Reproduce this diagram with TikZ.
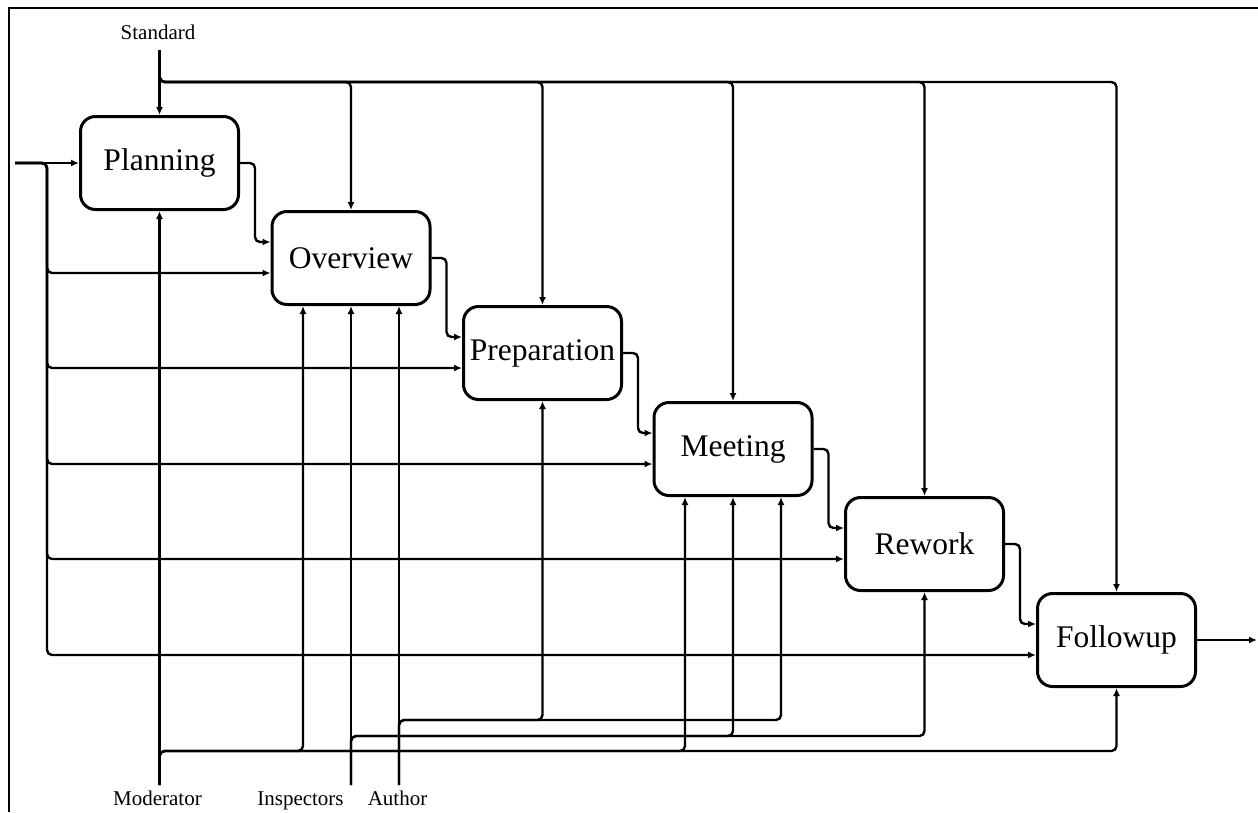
\documentclass[tikz,border=0pt]{standalone}
\usepackage{fontspec}
\setmainfont{Liberation Serif}
\usetikzlibrary{arrows.meta}
\begin{document}
\begin{tikzpicture}[x=1pt,y=-1pt,
  stage/.style={draw, line width=3pt, rounded corners=15pt,
    minimum width=158pt, minimum height=93pt, inner sep=0pt,
    font=\fontsize{31.5}{36}\selectfont},
  flow/.style={line width=2.4pt, rounded corners=5pt,
    -{Latex[length=8pt,width=7pt]}},
  lbl/.style={font=\fontsize{21}{24}\selectfont, anchor=base, inner sep=0pt}]
\useasboundingbox (0,0) rectangle (1258,812);

% frame
\draw[line width=2.6pt] (9,812) -- (9,8) -- (1258,8);

% process stages
\node[stage] (pl) at (159.5,163) {Planning};
\node[stage] (ov) at (351,258) {Overview};
\node[stage] (pr) at (542.5,353) {Preparation};
\node[stage] (mt) at (733,449) {Meeting};
\node[stage] (rw) at (924.5,544) {Rework};
\node[stage] (fu) at (1116.5,640) {Followup};

% role and input labels
\node[lbl] (stdl) at (158,39.5) {Standard};
\node[lbl] (modl) at (157.5,805) {Moderator};
\node[lbl] (inspl) at (300.5,805) {Inspectors};
\node[lbl] (authl) at (397.5,805) {Author};

% helper points
\coordinate (in) at (15,163);
\coordinate (bus) at (47,0);
\coordinate (std) at (pl.north |- 0,50);
\coordinate (stdbus) at (0,82);
\coordinate (mod) at (pl.south |- 0,785);
\coordinate (insp) at (ov.south |- 0,785);
\coordinate (ovM) at ([xshift=-48pt]ov.south);
\coordinate (ovA) at ([xshift=48pt]ov.south);
\coordinate (mtM) at ([xshift=-48pt]mt.south);
\coordinate (mtA) at ([xshift=48pt]mt.south);
\coordinate (auth) at (ovA |- 0,785);
\coordinate (modbus) at (0,751);
\coordinate (inspbus) at (0,736);
\coordinate (authbus) at (0,720);
\coordinate (out) at ([xshift=60pt]fu.east);
\foreach \b in {ov,pr,mt,rw,fu}
  \coordinate (\b-in) at ([yshift=-15pt]\b.west);

% stage to stage
\foreach \a/\b in {pl/ov, ov/pr, pr/mt, mt/rw, rw/fu}
  \draw[flow] (\a.east) -- ++(15,0) |- ([yshift=16pt]\b.west);

% main input distribution
\draw[flow] (in) -- (pl.west);
\foreach \b in {ov,pr,mt,rw,fu}
  \draw[flow] (in) -| (bus |- \b-in) -- (\b-in);

% standard distribution
\draw[flow] (std) -- (pl.north);
\foreach \b in {ov,pr,mt,rw,fu}
  \draw[flow] (std) |- (\b.north |- stdbus) -- (\b.north);

% moderator
\draw[flow] (mod) -- (pl.south);
\draw[flow] (mod) |- (ovM |- modbus) -- (ovM);
\draw[flow] (mod) |- (mtM |- modbus) -- (mtM);
\draw[flow] (mod) |- (fu.south |- modbus) -- (fu.south);

% inspectors
\draw[flow] (insp) -- (ov.south);
\draw[flow] (insp) |- (mt.south |- inspbus) -- (mt.south);
\draw[flow] (insp) |- (rw.south |- inspbus) -- (rw.south);

% author
\draw[flow] (auth) -- (ovA);
\draw[flow] (auth) |- (pr.south |- authbus) -- (pr.south);
\draw[flow] (auth) |- (mtA |- authbus) -- (mtA);

% output
\draw[flow] (fu.east) -- (out);
\end{tikzpicture}
\end{document}
